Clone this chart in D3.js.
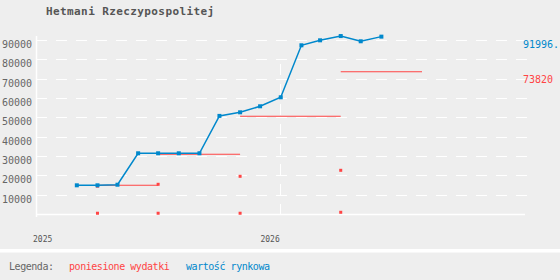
<!DOCTYPE html>
<html>
<head>
<meta charset="utf-8">
<script src="https://cdnjs.cloudflare.com/ajax/libs/d3/7.8.5/d3.min.js"></script>
<style>
  body { margin: 0; background: #eeeeee; }
  svg { display: block; font-family: "DejaVu Sans Mono", monospace; }
</style>
</head>
<body>
<div class="chartBox"></div>
<script>
// data
var title = 'Hetmani Rzeczypospolitej';
var months = ['2025-03-01','2025-04-01','2025-05-01','2025-06-01','2025-07-01','2025-08-01',
              '2025-09-01','2025-10-01','2025-11-01','2025-12-01','2026-01-01','2026-02-01',
              '2026-03-01','2026-04-01','2026-05-01','2026-06-01'];
var marketValue = [15100, 15100, 15400, 31660, 31660, 31660, 31660, 51000,
                   52860, 55970, 60620, 87520, 90100, 92300, 89600, 91996.35];
var expenseDates = ['2025-04-01','2025-07-01','2025-11-01','2026-04-01'];
var expenseMain = [14640, 15620, 19760, 22860];
var expenseFees = [650, 650, 650, 1150];
var costTotal = [15100, 31140, 50790, 73820];
var costEnd = '2026-08-01';
var yTicks = [10000, 20000, 30000, 40000, 50000, 60000, 70000, 80000, 90000];
var yearTicks = ['2025-01-01', '2026-01-01'];
var legendTitle = 'Legenda:';
var legendLabels = ['poniesione wydatki', 'wartość rynkowa'];

var red = '#ff4444',
    blue = '#0088cc',
    w = 560,
    h = 280;

var parse = d3.timeParse('%Y-%m-%d');

var svg = d3.select('.chartBox')
  .append('svg')
  .attr('width', w)
  .attr('height', h);

svg.append('rect')
  .attr('width', w)
  .attr('height', h)
  .attr('fill', '#eeeeee');

var x = d3.scaleTime()
  .domain([parse('2025-01-01'), parse('2027-01-01')])
  .range([37.5, 524]);

var y = d3.scaleLinear()
  .domain([0, 90000])
  .range([214.5, 40.5]);

// title
svg.append('text')
  .attr('x', 46)
  .attr('y', 15)
  .attr('fill', '#555')
  .attr('font-size', 11)
  .attr('font-weight', 'bold')
  .attr('letter-spacing', 0.4)
  .text(title);

// dashed grid
svg.selectAll('line.grid')
  .data(yTicks)
  .enter()
  .append('line')
  .attr('class', 'grid')
  .attr('x1', 36)
  .attr('x2', 527)
  .attr('y1', function(d){ return y(d); })
  .attr('y2', function(d){ return y(d); })
  .attr('stroke', '#fff')
  .attr('stroke-dasharray', '11,9')
  .attr('shape-rendering', 'crispEdges');

svg.selectAll('text.ytick')
  .data(yTicks)
  .enter()
  .append('text')
  .attr('class', 'ytick')
  .attr('x', 32)
  .attr('y', function(d){ return y(d) + 7.5; })
  .attr('text-anchor', 'end')
  .attr('fill', '#666')
  .attr('font-size', 10)
  .text(function(d){ return d; });

// axes lines
svg.append('line')
  .attr('x1', 36.5).attr('x2', 36.5)
  .attr('y1', 36).attr('y2', 217)
  .attr('stroke', '#fff')
  .attr('stroke-width', 1.5);

svg.append('line')
  .attr('x1', 36).attr('x2', 525)
  .attr('y1', y(0)).attr('y2', y(0))
  .attr('stroke', '#fff')
  .attr('stroke-width', 1.5);

// year markers
svg.selectAll('line.year')
  .data(yearTicks.slice(1))
  .enter()
  .append('line')
  .attr('class', 'year')
  .attr('x1', function(d){ return Math.floor(x(parse(d))) + 0.5; })
  .attr('x2', function(d){ return Math.floor(x(parse(d))) + 0.5; })
  .attr('y1', 64)
  .attr('y2', 217)
  .attr('stroke', '#fff')
  .attr('stroke-dasharray', '11,9');

svg.selectAll('text.year')
  .data(yearTicks)
  .enter()
  .append('text')
  .attr('class', 'year')
  .attr('x', function(d){
    var px = x(parse(d)) - 1;
    return px - 19 < 33 ? 33 : px;
  })
  .attr('text-anchor', function(d){
    return x(parse(d)) - 20 < 33 ? 'start' : 'end';
  })
  .attr('y', 242)
  .attr('fill', '#555')
  .attr('font-size', 8)
  .text(function(d){ return d.slice(0, 4); });

// cumulative cost steps
svg.selectAll('line.cost')
  .data(costTotal)
  .enter()
  .append('line')
  .attr('class', 'cost')
  .attr('x1', function(d, i){ return x(parse(expenseDates[i])); })
  .attr('x2', function(d, i){ return x(parse(i < expenseDates.length - 1 ? expenseDates[i + 1] : costEnd)); })
  .attr('y1', function(d){ return y(d); })
  .attr('y2', function(d){ return y(d); })
  .attr('stroke', red)
  .attr('stroke-width', 1.1);

// single expenses
var expensePoints = expenseMain.map(function(d, i){ return [expenseDates[i], d]; })
  .concat(expenseFees.map(function(d, i){ return [expenseDates[i], d]; }));

svg.selectAll('rect.expense')
  .data(expensePoints)
  .enter()
  .append('rect')
  .attr('class', 'expense')
  .attr('x', function(d){ return x(parse(d[0])) - 1.5; })
  .attr('y', function(d){ return y(d[1]) - 1.5; })
  .attr('width', 3)
  .attr('height', 3)
  .attr('fill', red);

// market value
var line = d3.line()
  .x(function(d, i){ return x(parse(months[i])); })
  .y(function(d){ return y(d); });

svg.append('path')
  .attr('d', line(marketValue))
  .attr('fill', 'none')
  .attr('stroke', blue)
  .attr('stroke-width', 1.5);

svg.selectAll('rect.value')
  .data(marketValue)
  .enter()
  .append('rect')
  .attr('class', 'value')
  .attr('x', function(d, i){ return x(parse(months[i])) - 2; })
  .attr('y', function(d){ return y(d) - 2; })
  .attr('width', 4)
  .attr('height', 4)
  .attr('fill', blue);

// end labels
var lastValue = marketValue[marketValue.length - 1],
    lastCost = costTotal[costTotal.length - 1];

svg.append('text')
  .attr('x', 523)
  .attr('y', y(lastValue) + 11)
  .attr('fill', blue)
  .attr('font-size', 10)
  .text(String(lastValue).slice(0, 6));

svg.append('text')
  .attr('x', 523)
  .attr('y', y(lastCost) + 11)
  .attr('fill', red)
  .attr('font-size', 10)
  .text(String(lastCost).slice(0, 6));

// legend
svg.append('rect')
  .attr('x', 0)
  .attr('y', 249)
  .attr('width', w)
  .attr('height', 3.5)
  .attr('fill', '#fff');

var legend = svg.append('g')
  .attr('font-size', 10)
  .attr('letter-spacing', -0.45);

legend.append('text')
  .attr('x', 9)
  .attr('y', 270)
  .attr('fill', '#666')
  .text(legendTitle);

legend.selectAll('text.item')
  .data(legendLabels)
  .enter()
  .append('text')
  .attr('class', 'item')
  .attr('x', function(d, i){ return i == 0 ? 69 : 186; })
  .attr('y', 270)
  .attr('fill', function(d, i){ return i == 0 ? red : blue; })
  .text(function(d){ return d; });
</script>
</body>
</html>
